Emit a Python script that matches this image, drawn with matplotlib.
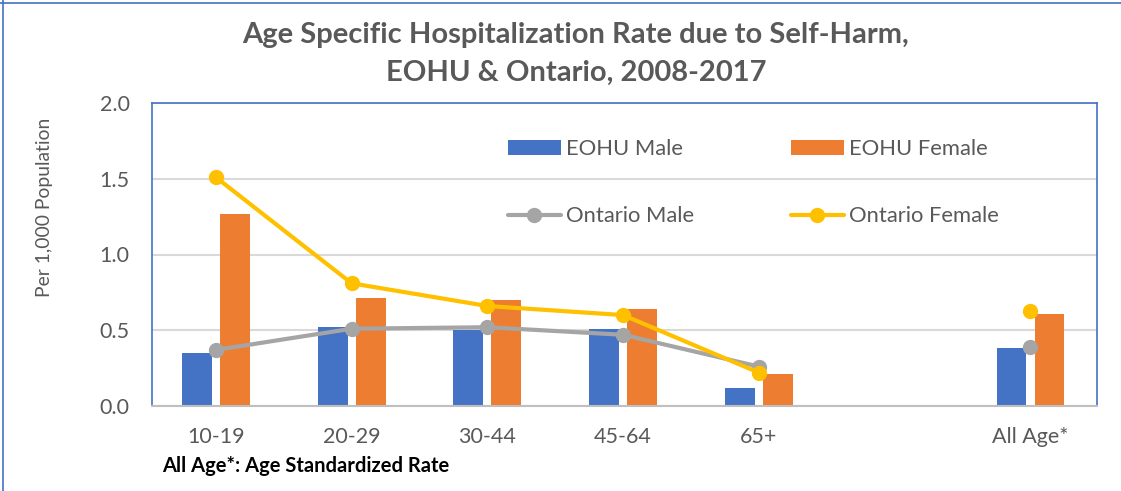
import numpy as np
import matplotlib
matplotlib.use("Agg")
import matplotlib.pyplot as plt
from matplotlib.lines import Line2D

categories = ["10-19", "20-29", "30-44", "45-64", "65+", "", "All Age*"]
eohu_male = [0.35, 0.52, 0.50, 0.51, 0.12, np.nan, 0.38]
eohu_female = [1.27, 0.71, 0.70, 0.64, 0.21, np.nan, 0.61]
ontario_male = [0.37, 0.51, 0.52, 0.47, 0.26, np.nan, 0.39]
ontario_female = [1.51, 0.81, 0.66, 0.60, 0.22, np.nan, 0.63]

title = "Age Specific Hospitalization Rate due to Self-Harm,\nEOHU & Ontario, 2008-2017"
ylabel = "Per 1,000 Population"
footnote = "All Age*: Age Standardized Rate"

BLUE = "#4472C4"
ORANGE = "#ED7D31"
GRAY = "#A5A5A5"
GOLD = "#FFC000"
TEXT = "#595959"

plt.rcParams["font.family"] = ["Lato", "DejaVu Sans"]

fig = plt.figure(figsize=(11.21, 4.91), dpi=100)
ax = fig.add_axes([152 / 1121, 1 - 406 / 491, 945 / 1121, 303 / 491])

x = np.arange(len(categories))
width = 0.22
offset = 0.14

b1 = ax.bar(x - offset, eohu_male, width, color=BLUE, label="EOHU Male", zorder=2)
b2 = ax.bar(x + offset, eohu_female, width, color=ORANGE, label="EOHU Female", zorder=2)
l1, = ax.plot(x, ontario_male, color=GRAY, lw=3, marker="o", ms=10,
              label="Ontario Male", zorder=3, solid_capstyle="round")
l2, = ax.plot(x, ontario_female, color=GOLD, lw=3, marker="o", ms=10,
              label="Ontario Female", zorder=4, solid_capstyle="round")

ax.set_xlim(-0.47, 6.49)
ax.set_ylim(0, 2.0)
yticks = [0, 0.5, 1.0, 1.5, 2.0]
ax.set_yticks(yticks)
ax.set_yticklabels([f"{v:.1f}" for v in yticks])
ax.set_xticks(x)
ax.set_xticklabels(categories)
ax.tick_params(axis="both", length=0, labelsize=15.5, colors=TEXT)
ax.tick_params(axis="y", pad=16)
ax.tick_params(axis="x", pad=15)

ax.grid(axis="y", color="#D9D9D9", lw=1.5, zorder=0)
ax.set_axisbelow(True)
for side in ["top", "left", "right"]:
    ax.spines[side].set_color(BLUE)
    ax.spines[side].set_linewidth(1.2)
ax.spines["bottom"].set_color("#BFBFBF")
ax.spines["bottom"].set_linewidth(1.5)

# column-major fill: bars on the first row, lines on the second
ax.legend(
    [b1, l1, b2, l2],
    ["EOHU Male", "Ontario Male", "EOHU Female", "Ontario Female"],
    ncol=2,
    loc="center",
    bbox_to_anchor=(0.6365, 0.737),
    frameon=False,
    fontsize=15.8,
    labelcolor=TEXT,
    handlelength=2.4,
    handleheight=0.64,
    handletextpad=0.25,
    columnspacing=4.4,
    labelspacing=2.16,
)

fig.text(45 / 1121, 1 - 207.5 / 491, ylabel, rotation=90, ha="center", va="center",
         fontsize=13.9, color=TEXT)
fig.text(576 / 1121, 1 - 54 / 491, title, ha="center", va="center",
         fontsize=21, fontweight="bold", color=TEXT, linespacing=1.58)
fig.text(162 / 1121, 1 - 466 / 491, footnote, ha="left", va="center",
         fontsize=14.5, fontweight="bold", color="black")

fig.add_artist(Line2D([0, 1], [1 - 3 / 491, 1 - 3 / 491], color=BLUE, lw=1.2,
                      transform=fig.transFigure))
fig.add_artist(Line2D([3 / 1121, 3 / 1121], [0, 1], color=BLUE, lw=1.2,
                      transform=fig.transFigure))

fig.savefig("out.png", dpi=100)
